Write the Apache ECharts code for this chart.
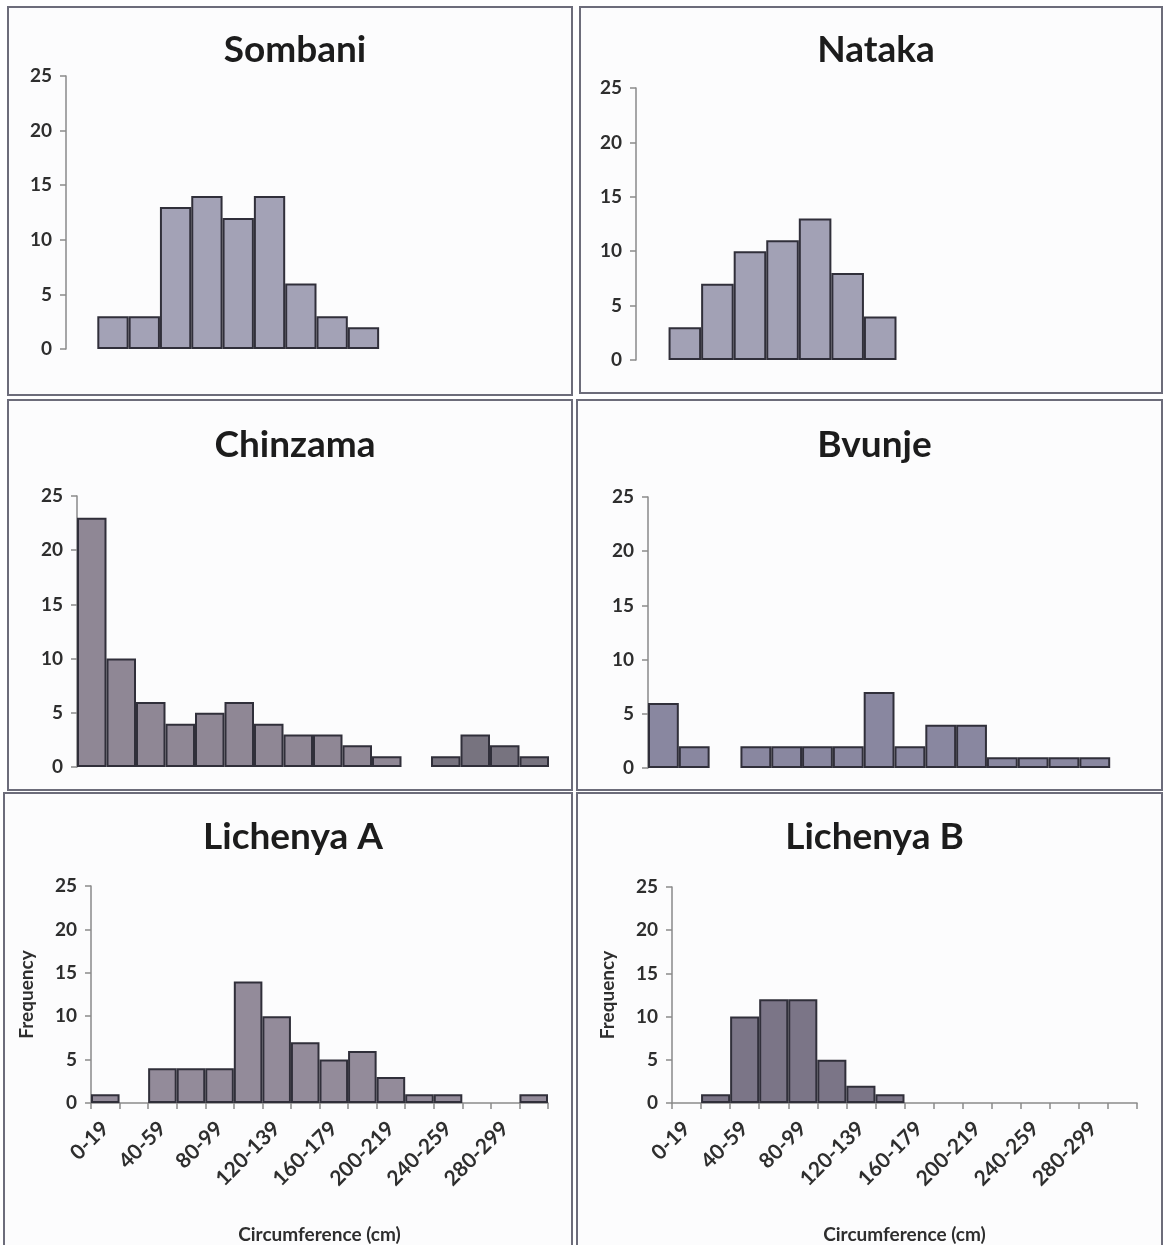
<!DOCTYPE html>
<html>
<head>
<meta charset="utf-8">
<title>Circumference frequency by site</title>
<script src="https://cdn.jsdelivr.net/npm/echarts@6/dist/echarts.min.js"></script>
<style>
  html, body { margin: 0; padding: 0; background: #ffffff; }
  #chart { width: 1165px; height: 1245px; }
</style>
</head>
<body>
<div id="chart"></div>
<script>
// Circumference classes (cm), 20 cm wide
const categories = ['0-19', '20-39', '40-59', '60-79', '80-99', '100-119', '120-139', '140-159',
  '160-179', '180-199', '200-219', '220-239', '240-259', '260-279', '280-299', '300-319'];

// Tree counts per circumference class, one array per site
const sombani   = [0, 3, 3, 13, 14, 12, 14, 6, 3, 2, 0, 0, 0, 0, 0, 0];
const nataka    = [0, 3, 7, 10, 11, 13, 8, 4, 0, 0, 0, 0, 0, 0, 0, 0];
const chinzama  = [23, 10, 6, 4, 5, 6, 4, 3, 3, 2, 1, 0, 1, 3, 2, 1];
const bvunje    = [6, 2, 0, 2, 2, 2, 2, 7, 2, 4, 4, 1, 1, 1, 1, 0];
const lichenyaA = [1, 0, 4, 4, 4, 14, 10, 7, 5, 6, 3, 1, 1, 0, 0, 1];
const lichenyaB = [0, 1, 10, 12, 12, 5, 2, 1, 0, 0, 0, 0, 0, 0, 0, 0];

// Frequency axis ticks
const yTicks = { min: 0, max: 25, interval: 5 };

const FONT = 'Lato, "Open Sans", sans-serif';
const TEXT = '#2e2e2e';

// Panel layout: frame box, plot box, bar colours, whether the class axis is drawn.
// 'shadeFrom' starts a darker group of bars (the separate upper cluster in Chinzama).
const panels = [
  { name: 'Sombani',    data: sombani,   frame: [8, 7, 564, 388],   grid: [66, 76, 501, 273],  color: '#a3a2b6', full: false, titleY: 27 },
  { name: 'Nataka',     data: nataka,    frame: [580, 7, 582, 386], grid: [636, 88, 521, 272], color: '#a2a1b5', full: false, titleY: 27 },
  { name: 'Chinzama',   data: chinzama,  frame: [8, 400, 564, 390], grid: [77, 496, 472, 271], color: '#8f8795', shade: '#77737f', shadeFrom: 12, full: false, titleY: 422 },
  { name: 'Bvunje',     data: bvunje,    frame: [577, 400, 585, 390], grid: [648, 497, 493, 271], color: '#8987a0', full: false, titleY: 422 },
  { name: 'Lichenya A', data: lichenyaA, frame: [4, 793, 568, 470], grid: [91, 886, 457, 224], color: '#938b9a', full: true, titleY: 814 },
  { name: 'Lichenya B', data: lichenyaB, frame: [577, 793, 585, 470], grid: [672, 887, 465, 221], color: '#7b7587', full: true, titleY: 814 }
];

const grids = [], xAxes = [], yAxes = [], series = [], titles = [], frames = [];

panels.forEach((p, i) => {
  const [fx, fy, fw, fh] = p.frame;
  const [gx, gy, gw, gh] = p.grid;

  frames.push({
    type: 'rect', z: -1, silent: true,
    shape: { x: fx, y: fy, width: fw, height: fh },
    style: { fill: '#fcfcfd', stroke: '#6c6c7a', lineWidth: 2 }
  });

  titles.push({
    text: p.name,
    left: fx + fw / 2, top: p.titleY, textAlign: 'center',
    textStyle: { fontFamily: FONT, fontSize: 37, fontWeight: 'bold', color: '#1c1c1c' }
  });

  grids.push({ left: gx, top: gy, width: gw, height: gh, containLabel: false });

  xAxes.push({
    type: 'category', gridIndex: i, data: categories,
    boundaryGap: true,
    name: p.full ? 'Circumference (cm)' : '',
    nameLocation: 'middle', nameGap: 122,
    nameTextStyle: { fontFamily: FONT, fontSize: 19, fontWeight: 'bold', color: TEXT },
    axisLine: { show: p.full, lineStyle: { color: '#8a8a8a', width: 1.5 } },
    axisTick: { show: p.full, interval: 0, length: 6, lineStyle: { color: '#8a8a8a', width: 1.5 } },
    axisLabel: {
      show: p.full, interval: 1, rotate: 45, margin: 22,
      fontFamily: FONT, fontSize: 21, fontWeight: 'bold', color: TEXT
    },
    splitLine: { show: false }
  });

  yAxes.push({
    type: 'value', gridIndex: i,
    min: yTicks.min, max: yTicks.max, interval: yTicks.interval,
    name: p.full ? 'Frequency' : '',
    nameLocation: 'middle', nameRotate: 90, nameGap: 55,
    nameTextStyle: { fontFamily: FONT, fontSize: 19, fontWeight: 'bold', color: TEXT },
    axisLine: { show: true, lineStyle: { color: '#8a8a8a', width: 1.5 } },
    axisTick: { show: true, length: 6, lineStyle: { color: '#8a8a8a', width: 1.5 } },
    axisLabel: { margin: 14, fontFamily: FONT, fontSize: 19, fontWeight: 'bold', color: TEXT },
    splitLine: { show: false }
  });

  // Empty classes get no outline so they leave a gap instead of a flat line
  const items = p.data.map((v, k) => {
    const style = {};
    if (v === 0) style.borderWidth = 0;
    if (p.shadeFrom !== undefined && k >= p.shadeFrom) style.color = p.shade;
    return { value: v, itemStyle: style };
  });

  series.push({
    type: 'bar', xAxisIndex: i, yAxisIndex: i,
    data: items,
    barCategoryGap: '0%',
    itemStyle: { color: p.color, borderColor: '#302f3a', borderWidth: 2 },
    emphasis: { disabled: true },
    silent: true
  });
});

const chart = echarts.init(document.getElementById('chart'), null, { renderer: 'canvas' });
chart.setOption({
  animation: false,
  backgroundColor: '#ffffff',
  title: titles,
  grid: grids,
  xAxis: xAxes,
  yAxis: yAxes,
  series: series,
  graphic: { elements: frames }
});
</script>
</body>
</html>
